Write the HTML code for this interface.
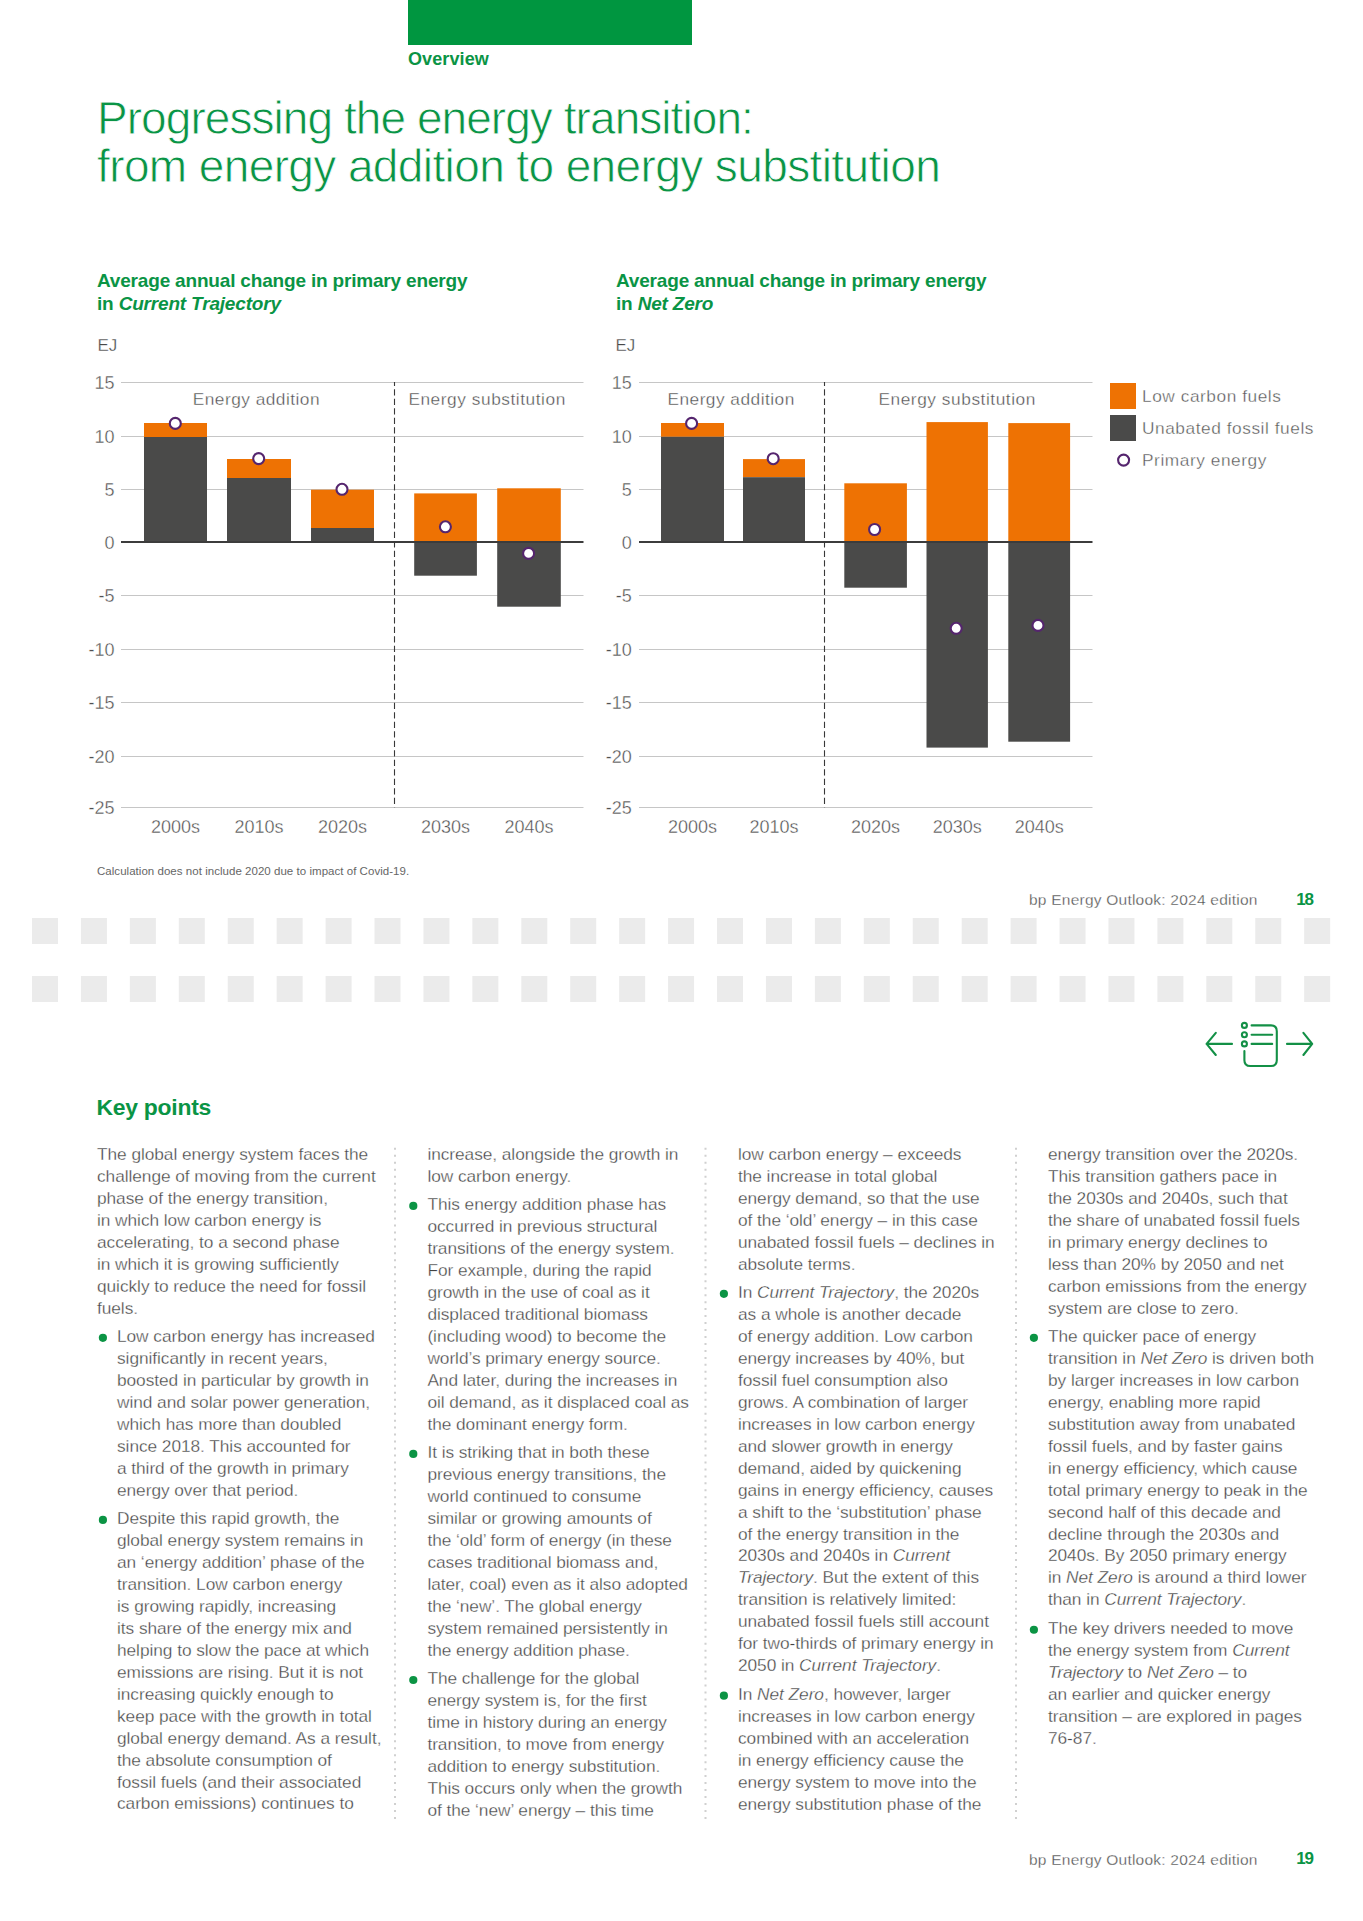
<!DOCTYPE html>
<html><head><meta charset="utf-8"><title>bp Energy Outlook 2024 - Progressing the energy transition</title>
<style>
html,body{margin:0;padding:0;background:#fff;}
body{width:1363px;height:1921px;position:relative;overflow:hidden;font-family:"Liberation Sans",sans-serif;}
.a{position:absolute;white-space:nowrap;margin:0;}
.g{color:#0a9445;}
.b{font-weight:bold;}
.t{color:#424242;font-size:17.3px;line-height:21.97px;-webkit-text-stroke:0.32px #fff;}
.thin{-webkit-text-stroke:0.3px #fff;}
.t i{font-style:italic;}
.dot{position:absolute;width:7.6px;height:7.6px;border-radius:50%;background:#0b9444;}
svg{position:absolute;left:0;top:0;}
</style></head><body>
<svg width="1363" height="1921" viewBox="0 0 1363 1921" font-family="Liberation Sans, sans-serif">
<rect x="121.0" y="382" width="462.5" height="1" fill="#c6c6c6"/>
<rect x="121.0" y="436" width="462.5" height="1" fill="#c6c6c6"/>
<rect x="121.0" y="489" width="462.5" height="1" fill="#c6c6c6"/>
<rect x="121.0" y="595" width="462.5" height="1" fill="#c6c6c6"/>
<rect x="121.0" y="649" width="462.5" height="1" fill="#c6c6c6"/>
<rect x="121.0" y="702" width="462.5" height="1" fill="#c6c6c6"/>
<rect x="121.0" y="756" width="462.5" height="1" fill="#c6c6c6"/>
<rect x="121.0" y="807" width="462.5" height="1" fill="#c6c6c6"/>
<text x="114.5" y="388.90" text-anchor="end" font-size="18" fill="#505050" stroke="#fff" stroke-width="0.35">15</text>
<text x="114.5" y="442.80" text-anchor="end" font-size="18" fill="#505050" stroke="#fff" stroke-width="0.35">10</text>
<text x="114.5" y="496.10" text-anchor="end" font-size="18" fill="#505050" stroke="#fff" stroke-width="0.35">5</text>
<text x="114.5" y="548.50" text-anchor="end" font-size="18" fill="#505050" stroke="#fff" stroke-width="0.35">0</text>
<text x="114.5" y="601.80" text-anchor="end" font-size="18" fill="#505050" stroke="#fff" stroke-width="0.35">-5</text>
<text x="114.5" y="655.90" text-anchor="end" font-size="18" fill="#505050" stroke="#fff" stroke-width="0.35">-10</text>
<text x="114.5" y="708.80" text-anchor="end" font-size="18" fill="#505050" stroke="#fff" stroke-width="0.35">-15</text>
<text x="114.5" y="762.80" text-anchor="end" font-size="18" fill="#505050" stroke="#fff" stroke-width="0.35">-20</text>
<text x="114.5" y="813.90" text-anchor="end" font-size="18" fill="#505050" stroke="#fff" stroke-width="0.35">-25</text>
<rect x="144.0" y="423.0" width="63.0" height="14.0" fill="#ee7203"/>
<rect x="144.0" y="437.0" width="63.0" height="105.0" fill="#4a4a49"/>
<rect x="227.0" y="459.0" width="64.0" height="19.0" fill="#ee7203"/>
<rect x="227.0" y="478.0" width="64.0" height="64.0" fill="#4a4a49"/>
<rect x="311.0" y="489.7" width="63.0" height="38.3" fill="#ee7203"/>
<rect x="311.0" y="528.0" width="63.0" height="14.0" fill="#4a4a49"/>
<rect x="414.2" y="493.4" width="62.7" height="48.6" fill="#ee7203"/>
<rect x="414.2" y="542" width="62.7" height="33.7" fill="#4a4a49"/>
<rect x="497.2" y="488.3" width="63.6" height="53.7" fill="#ee7203"/>
<rect x="497.2" y="542" width="63.6" height="64.7" fill="#4a4a49"/>
<rect x="121.0" y="541" width="462.5" height="2" fill="#3c3c3c"/>
<line x1="394.5" y1="382" x2="394.5" y2="807.5" stroke="#383838" stroke-width="1.1" stroke-dasharray="6.3 3.2" stroke-dashoffset="2.2"/>
<circle cx="175.3" cy="423.4" r="5.5" fill="#fff" stroke="#55256e" stroke-width="2.1"/>
<circle cx="258.7" cy="458.6" r="5.5" fill="#fff" stroke="#55256e" stroke-width="2.1"/>
<circle cx="342.0" cy="489.3" r="5.5" fill="#fff" stroke="#55256e" stroke-width="2.1"/>
<circle cx="445.4" cy="526.8" r="5.5" fill="#fff" stroke="#55256e" stroke-width="2.1"/>
<circle cx="528.6" cy="553.4" r="5.5" fill="#fff" stroke="#55256e" stroke-width="2.1"/>
<text x="175.5" y="833.3" text-anchor="middle" font-size="18" fill="#505050" stroke="#fff" stroke-width="0.35">2000s</text>
<text x="259.0" y="833.3" text-anchor="middle" font-size="18" fill="#505050" stroke="#fff" stroke-width="0.35">2010s</text>
<text x="342.5" y="833.3" text-anchor="middle" font-size="18" fill="#505050" stroke="#fff" stroke-width="0.35">2020s</text>
<text x="445.5" y="833.3" text-anchor="middle" font-size="18" fill="#505050" stroke="#fff" stroke-width="0.35">2030s</text>
<text x="529.0" y="833.3" text-anchor="middle" font-size="18" fill="#505050" stroke="#fff" stroke-width="0.35">2040s</text>
<text x="256.4" y="405.3" text-anchor="middle" font-size="17.3" fill="#4c4c4c" stroke="#fff" stroke-width="0.35" letter-spacing="0.48">Energy addition</text>
<text x="487.1" y="405.3" text-anchor="middle" font-size="17.3" fill="#4c4c4c" stroke="#fff" stroke-width="0.35" letter-spacing="0.55">Energy substitution</text>
<rect x="639.0" y="382" width="453.5" height="1" fill="#c6c6c6"/>
<rect x="639.0" y="436" width="453.5" height="1" fill="#c6c6c6"/>
<rect x="639.0" y="489" width="453.5" height="1" fill="#c6c6c6"/>
<rect x="639.0" y="595" width="453.5" height="1" fill="#c6c6c6"/>
<rect x="639.0" y="649" width="453.5" height="1" fill="#c6c6c6"/>
<rect x="639.0" y="702" width="453.5" height="1" fill="#c6c6c6"/>
<rect x="639.0" y="756" width="453.5" height="1" fill="#c6c6c6"/>
<rect x="639.0" y="807" width="453.5" height="1" fill="#c6c6c6"/>
<text x="631.8" y="388.90" text-anchor="end" font-size="18" fill="#505050" stroke="#fff" stroke-width="0.35">15</text>
<text x="631.8" y="442.80" text-anchor="end" font-size="18" fill="#505050" stroke="#fff" stroke-width="0.35">10</text>
<text x="631.8" y="496.10" text-anchor="end" font-size="18" fill="#505050" stroke="#fff" stroke-width="0.35">5</text>
<text x="631.8" y="548.50" text-anchor="end" font-size="18" fill="#505050" stroke="#fff" stroke-width="0.35">0</text>
<text x="631.8" y="601.80" text-anchor="end" font-size="18" fill="#505050" stroke="#fff" stroke-width="0.35">-5</text>
<text x="631.8" y="655.90" text-anchor="end" font-size="18" fill="#505050" stroke="#fff" stroke-width="0.35">-10</text>
<text x="631.8" y="708.80" text-anchor="end" font-size="18" fill="#505050" stroke="#fff" stroke-width="0.35">-15</text>
<text x="631.8" y="762.80" text-anchor="end" font-size="18" fill="#505050" stroke="#fff" stroke-width="0.35">-20</text>
<text x="631.8" y="813.90" text-anchor="end" font-size="18" fill="#505050" stroke="#fff" stroke-width="0.35">-25</text>
<rect x="661.0" y="423.0" width="63.0" height="13.8" fill="#ee7203"/>
<rect x="661.0" y="436.8" width="63.0" height="105.2" fill="#4a4a49"/>
<rect x="743.0" y="459.1" width="62.0" height="18.1" fill="#ee7203"/>
<rect x="743.0" y="477.2" width="62.0" height="64.8" fill="#4a4a49"/>
<rect x="844.3" y="483.3" width="62.6" height="58.7" fill="#ee7203"/>
<rect x="844.3" y="542" width="62.6" height="45.7" fill="#4a4a49"/>
<rect x="926.5" y="422.1" width="61.4" height="119.9" fill="#ee7203"/>
<rect x="926.5" y="542" width="61.4" height="205.6" fill="#4a4a49"/>
<rect x="1008.3" y="423.1" width="61.8" height="118.9" fill="#ee7203"/>
<rect x="1008.3" y="542" width="61.8" height="199.7" fill="#4a4a49"/>
<rect x="639.0" y="541" width="453.5" height="2" fill="#3c3c3c"/>
<line x1="824.5" y1="382" x2="824.5" y2="807.5" stroke="#383838" stroke-width="1.1" stroke-dasharray="6.3 3.2" stroke-dashoffset="2.2"/>
<circle cx="691.6" cy="423.4" r="5.5" fill="#fff" stroke="#55256e" stroke-width="2.1"/>
<circle cx="773.2" cy="458.7" r="5.5" fill="#fff" stroke="#55256e" stroke-width="2.1"/>
<circle cx="874.6" cy="529.5" r="5.5" fill="#fff" stroke="#55256e" stroke-width="2.1"/>
<circle cx="956.2" cy="628.3" r="5.5" fill="#fff" stroke="#55256e" stroke-width="2.1"/>
<circle cx="1038.0" cy="625.4" r="5.5" fill="#fff" stroke="#55256e" stroke-width="2.1"/>
<text x="692.5" y="833.3" text-anchor="middle" font-size="18" fill="#505050" stroke="#fff" stroke-width="0.35">2000s</text>
<text x="774.0" y="833.3" text-anchor="middle" font-size="18" fill="#505050" stroke="#fff" stroke-width="0.35">2010s</text>
<text x="875.6" y="833.3" text-anchor="middle" font-size="18" fill="#505050" stroke="#fff" stroke-width="0.35">2020s</text>
<text x="957.2" y="833.3" text-anchor="middle" font-size="18" fill="#505050" stroke="#fff" stroke-width="0.35">2030s</text>
<text x="1039.2" y="833.3" text-anchor="middle" font-size="18" fill="#505050" stroke="#fff" stroke-width="0.35">2040s</text>
<text x="731.1" y="405.3" text-anchor="middle" font-size="17.3" fill="#4c4c4c" stroke="#fff" stroke-width="0.35" letter-spacing="0.48">Energy addition</text>
<text x="957.2" y="405.3" text-anchor="middle" font-size="17.3" fill="#4c4c4c" stroke="#fff" stroke-width="0.35" letter-spacing="0.55">Energy substitution</text>
<rect x="1110" y="383" width="26" height="26" fill="#ee7203"/>
<rect x="1110" y="415" width="26" height="26" fill="#4a4a49"/>
<circle cx="1123.6" cy="460.1" r="5.5" fill="#fff" stroke="#55256e" stroke-width="2.1"/>
<text x="1142" y="402.0" font-size="17.3" fill="#555" stroke="#fff" stroke-width="0.35" letter-spacing="0.55">Low carbon fuels</text>
<text x="1142" y="433.7" font-size="17.3" fill="#555" stroke="#fff" stroke-width="0.35" letter-spacing="0.55">Unabated fossil fuels</text>
<text x="1142" y="465.7" font-size="17.3" fill="#555" stroke="#fff" stroke-width="0.35" letter-spacing="0.55">Primary energy</text>
<rect x="32.00" y="918" width="26" height="26" fill="#ebebeb"/>
<rect x="80.93" y="918" width="26" height="26" fill="#ebebeb"/>
<rect x="129.86" y="918" width="26" height="26" fill="#ebebeb"/>
<rect x="178.79" y="918" width="26" height="26" fill="#ebebeb"/>
<rect x="227.72" y="918" width="26" height="26" fill="#ebebeb"/>
<rect x="276.65" y="918" width="26" height="26" fill="#ebebeb"/>
<rect x="325.58" y="918" width="26" height="26" fill="#ebebeb"/>
<rect x="374.51" y="918" width="26" height="26" fill="#ebebeb"/>
<rect x="423.44" y="918" width="26" height="26" fill="#ebebeb"/>
<rect x="472.37" y="918" width="26" height="26" fill="#ebebeb"/>
<rect x="521.30" y="918" width="26" height="26" fill="#ebebeb"/>
<rect x="570.23" y="918" width="26" height="26" fill="#ebebeb"/>
<rect x="619.16" y="918" width="26" height="26" fill="#ebebeb"/>
<rect x="668.09" y="918" width="26" height="26" fill="#ebebeb"/>
<rect x="717.02" y="918" width="26" height="26" fill="#ebebeb"/>
<rect x="765.95" y="918" width="26" height="26" fill="#ebebeb"/>
<rect x="814.88" y="918" width="26" height="26" fill="#ebebeb"/>
<rect x="863.81" y="918" width="26" height="26" fill="#ebebeb"/>
<rect x="912.74" y="918" width="26" height="26" fill="#ebebeb"/>
<rect x="961.67" y="918" width="26" height="26" fill="#ebebeb"/>
<rect x="1010.60" y="918" width="26" height="26" fill="#ebebeb"/>
<rect x="1059.53" y="918" width="26" height="26" fill="#ebebeb"/>
<rect x="1108.46" y="918" width="26" height="26" fill="#ebebeb"/>
<rect x="1157.39" y="918" width="26" height="26" fill="#ebebeb"/>
<rect x="1206.32" y="918" width="26" height="26" fill="#ebebeb"/>
<rect x="1255.25" y="918" width="26" height="26" fill="#ebebeb"/>
<rect x="1304.18" y="918" width="26" height="26" fill="#ebebeb"/>
<rect x="32.00" y="976" width="26" height="26" fill="#ebebeb"/>
<rect x="80.93" y="976" width="26" height="26" fill="#ebebeb"/>
<rect x="129.86" y="976" width="26" height="26" fill="#ebebeb"/>
<rect x="178.79" y="976" width="26" height="26" fill="#ebebeb"/>
<rect x="227.72" y="976" width="26" height="26" fill="#ebebeb"/>
<rect x="276.65" y="976" width="26" height="26" fill="#ebebeb"/>
<rect x="325.58" y="976" width="26" height="26" fill="#ebebeb"/>
<rect x="374.51" y="976" width="26" height="26" fill="#ebebeb"/>
<rect x="423.44" y="976" width="26" height="26" fill="#ebebeb"/>
<rect x="472.37" y="976" width="26" height="26" fill="#ebebeb"/>
<rect x="521.30" y="976" width="26" height="26" fill="#ebebeb"/>
<rect x="570.23" y="976" width="26" height="26" fill="#ebebeb"/>
<rect x="619.16" y="976" width="26" height="26" fill="#ebebeb"/>
<rect x="668.09" y="976" width="26" height="26" fill="#ebebeb"/>
<rect x="717.02" y="976" width="26" height="26" fill="#ebebeb"/>
<rect x="765.95" y="976" width="26" height="26" fill="#ebebeb"/>
<rect x="814.88" y="976" width="26" height="26" fill="#ebebeb"/>
<rect x="863.81" y="976" width="26" height="26" fill="#ebebeb"/>
<rect x="912.74" y="976" width="26" height="26" fill="#ebebeb"/>
<rect x="961.67" y="976" width="26" height="26" fill="#ebebeb"/>
<rect x="1010.60" y="976" width="26" height="26" fill="#ebebeb"/>
<rect x="1059.53" y="976" width="26" height="26" fill="#ebebeb"/>
<rect x="1108.46" y="976" width="26" height="26" fill="#ebebeb"/>
<rect x="1157.39" y="976" width="26" height="26" fill="#ebebeb"/>
<rect x="1206.32" y="976" width="26" height="26" fill="#ebebeb"/>
<rect x="1255.25" y="976" width="26" height="26" fill="#ebebeb"/>
<rect x="1304.18" y="976" width="26" height="26" fill="#ebebeb"/>
<g fill="none" stroke="#139046" stroke-width="2.1" stroke-linecap="round" stroke-linejoin="round"><path d="M1215.8 1032.8 L1206.6 1043.9 L1215.8 1055 M1206.6 1043.9 H1232"/><path d="M1303.4 1032.8 L1312.2 1043.9 L1303.4 1055 M1312.2 1043.9 H1287"/><circle cx="1244.4" cy="1025.4" r="2.5"/><circle cx="1244.4" cy="1034.7" r="2.5"/><circle cx="1244.4" cy="1043.9" r="2.5"/><path d="M1251.6 1034.7 H1272.2 M1251.6 1043.9 H1272.2"/><path d="M1251.6 1025.4 H1271 Q1276.8 1025.4 1276.8 1031.2 V1060.2 Q1276.8 1066 1271 1066 H1250.2 Q1244.4 1066 1244.4 1060.2 V1051"/></g>
</svg>
<div class="a" style="left:408px;top:0;width:284px;height:45px;background:#009640"></div>
<div class="a g b" style="left:408px;top:50.36px;font-size:18px;line-height:18px;letter-spacing:0.1px">Overview</div>
<div class="a g" style="left:97px;top:93.71px;font-size:46.0px;line-height:48.7px;-webkit-text-stroke:0.8px #fff"><span style="letter-spacing:-0.94px">Progressing the energy transition:</span><br><span style="letter-spacing:-0.61px">from energy addition to energy substitution</span></div>
<div class="a g b" style="left:97px;top:269.97px;font-size:19px;line-height:22.7px;letter-spacing:-0.18px">Average annual change in primary energy<br>in <i>Current Trajectory</i></div>
<div class="a g b" style="left:616px;top:269.97px;font-size:19px;line-height:22.7px;letter-spacing:-0.18px">Average annual change in primary energy<br>in <i>Net Zero</i></div>
<div class="a thin" style="left:97.5px;top:337.31px;font-size:17px;line-height:17px;color:#484848">EJ</div>
<div class="a thin" style="left:615.5px;top:337.31px;font-size:17px;line-height:17px;color:#484848">EJ</div>
<div class="a" style="left:97px;top:866.37px;font-size:11.5px;line-height:11.5px;color:#666;letter-spacing:0.035px">Calculation does not include 2020 due to impact of Covid-19.</div>
<div class="a thin" style="left:1029px;top:891.88px;font-size:15.5px;line-height:15.5px;color:#4a4a4a;letter-spacing:0.23px">bp Energy Outlook: 2024 edition</div>
<div class="a g b" style="left:1296.3px;top:890.61px;font-size:17px;line-height:17px;letter-spacing:-1.2px">18</div>
<div class="a thin" style="left:1029px;top:1851.68px;font-size:15.5px;line-height:15.5px;color:#4a4a4a;letter-spacing:0.23px">bp Energy Outlook: 2024 edition</div>
<div class="a g b" style="left:1296.3px;top:1850.41px;font-size:17px;line-height:17px;letter-spacing:-1.2px">19</div>
<div class="a g b" style="left:96.5px;top:1095.52px;font-size:22.9px;line-height:22.9px;letter-spacing:-0.25px">Key points</div>
<svg width="1363" height="1921">
<circle cx="102.9" cy="1337.79" r="4.1" fill="#0b9444"/>
<circle cx="102.9" cy="1519.88" r="4.1" fill="#0b9444"/>
<circle cx="413.3" cy="1205.97" r="4.1" fill="#0b9444"/>
<circle cx="413.3" cy="1453.97" r="4.1" fill="#0b9444"/>
<circle cx="413.3" cy="1680.00" r="4.1" fill="#0b9444"/>
<circle cx="723.9" cy="1293.85" r="4.1" fill="#0b9444"/>
<circle cx="723.9" cy="1695.64" r="4.1" fill="#0b9444"/>
<circle cx="1033.9" cy="1337.79" r="4.1" fill="#0b9444"/>
<circle cx="1033.9" cy="1629.73" r="4.1" fill="#0b9444"/>
<line x1="395.0" y1="1147.8" x2="395.0" y2="1823" stroke="#d0d0d0" stroke-width="2" stroke-dasharray="2 4.97"/>
<line x1="705.5" y1="1147.8" x2="705.5" y2="1823" stroke="#d0d0d0" stroke-width="2" stroke-dasharray="2 4.97"/>
<line x1="1016.0" y1="1147.8" x2="1016.0" y2="1823" stroke="#d0d0d0" stroke-width="2" stroke-dasharray="2 4.97"/>
</svg>
<div class="a t" style="left:97.0px;top:1143.72px;letter-spacing:-0.05px">The global energy system faces the<br>challenge of moving from the current<br>phase of the energy transition,<br>in which low carbon energy is<br>accelerating, to a second phase<br>in which it is growing sufficiently<br>quickly to reduce the need for fossil<br>fuels.</div>
<div class="a t" style="left:117.0px;top:1325.81px;letter-spacing:-0.05px">Low carbon energy has increased<br>significantly in recent years,<br>boosted in particular by growth in<br>wind and solar power generation,<br>which has more than doubled<br>since 2018. This accounted for<br>a third of the growth in primary<br>energy over that period.</div>
<div class="a t" style="left:117.0px;top:1507.90px;letter-spacing:-0.05px">Despite this rapid growth, the<br>global energy system remains in<br>an ‘energy addition’ phase of the<br>transition. Low carbon energy<br>is growing rapidly, increasing<br>its share of the energy mix and<br>helping to slow the pace at which<br>emissions are rising. But it is not<br>increasing quickly enough to<br>keep pace with the growth in total<br>global energy demand. As a result,<br>the absolute consumption of<br>fossil fuels (and their associated<br>carbon emissions) continues to</div>
<div class="a t" style="left:427.4px;top:1143.72px;letter-spacing:-0.05px">increase, alongside the growth in<br>low carbon energy.</div>
<div class="a t" style="left:427.4px;top:1193.99px;letter-spacing:-0.05px">This energy addition phase has<br>occurred in previous structural<br>transitions of the energy system.<br>For example, during the rapid<br>growth in the use of coal as it<br>displaced traditional biomass<br>(including wood) to become the<br>world’s primary energy source.<br>And later, during the increases in<br>oil demand, as it displaced coal as<br>the dominant energy form.</div>
<div class="a t" style="left:427.4px;top:1441.99px;letter-spacing:-0.05px">It is striking that in both these<br>previous energy transitions, the<br>world continued to consume<br>similar or growing amounts of<br>the ‘old’ form of energy (in these<br>cases traditional biomass and,<br>later, coal) even as it also adopted<br>the ‘new’. The global energy<br>system remained persistently in<br>the energy addition phase.</div>
<div class="a t" style="left:427.4px;top:1668.02px;letter-spacing:-0.05px">The challenge for the global<br>energy system is, for the first<br>time in history during an energy<br>transition, to move from energy<br>addition to energy substitution.<br>This occurs only when the growth<br>of the ‘new’ energy – this time</div>
<div class="a t" style="left:738.0px;top:1143.72px;letter-spacing:-0.05px">low carbon energy – exceeds<br>the increase in total global<br>energy demand, so that the use<br>of the ‘old’ energy – in this case<br>unabated fossil fuels – declines in<br>absolute terms.</div>
<div class="a t" style="left:738.0px;top:1281.87px;letter-spacing:-0.05px">In <i>Current Trajectory</i>, the 2020s<br>as a whole is another decade<br>of energy addition. Low carbon<br>energy increases by 40%, but<br>fossil fuel consumption also<br>grows. A combination of larger<br>increases in low carbon energy<br>and slower growth in energy<br>demand, aided by quickening<br>gains in energy efficiency, causes<br>a shift to the ‘substitution’ phase<br>of the energy transition in the<br>2030s and 2040s in <i>Current</i><br><i>Trajectory</i>. But the extent of this<br>transition is relatively limited:<br>unabated fossil fuels still account<br>for two-thirds of primary energy in<br>2050 in <i>Current Trajectory</i>.</div>
<div class="a t" style="left:738.0px;top:1683.66px;letter-spacing:-0.05px">In <i>Net Zero</i>, however, larger<br>increases in low carbon energy<br>combined with an acceleration<br>in energy efficiency cause the<br>energy system to move into the<br>energy substitution phase of the</div>
<div class="a t" style="left:1048.0px;top:1143.72px;letter-spacing:-0.05px">energy transition over the 2020s.<br>This transition gathers pace in<br>the 2030s and 2040s, such that<br>the share of unabated fossil fuels<br>in primary energy declines to<br>less than 20% by 2050 and net<br>carbon emissions from the energy<br>system are close to zero.</div>
<div class="a t" style="left:1048.0px;top:1325.81px;letter-spacing:-0.05px">The quicker pace of energy<br>transition in <i>Net Zero</i> is driven both<br>by larger increases in low carbon<br>energy, enabling more rapid<br>substitution away from unabated<br>fossil fuels, and by faster gains<br>in energy efficiency, which cause<br>total primary energy to peak in the<br>second half of this decade and<br>decline through the 2030s and<br>2040s. By 2050 primary energy<br>in <i>Net Zero</i> is around a third lower<br>than in <i>Current Trajectory</i>.</div>
<div class="a t" style="left:1048.0px;top:1617.75px;letter-spacing:-0.05px">The key drivers needed to move<br>the energy system from <i>Current</i><br><i>Trajectory</i> to <i>Net Zero</i> – to<br>an earlier and quicker energy<br>transition – are explored in pages<br>76-87.</div>
</body></html>
